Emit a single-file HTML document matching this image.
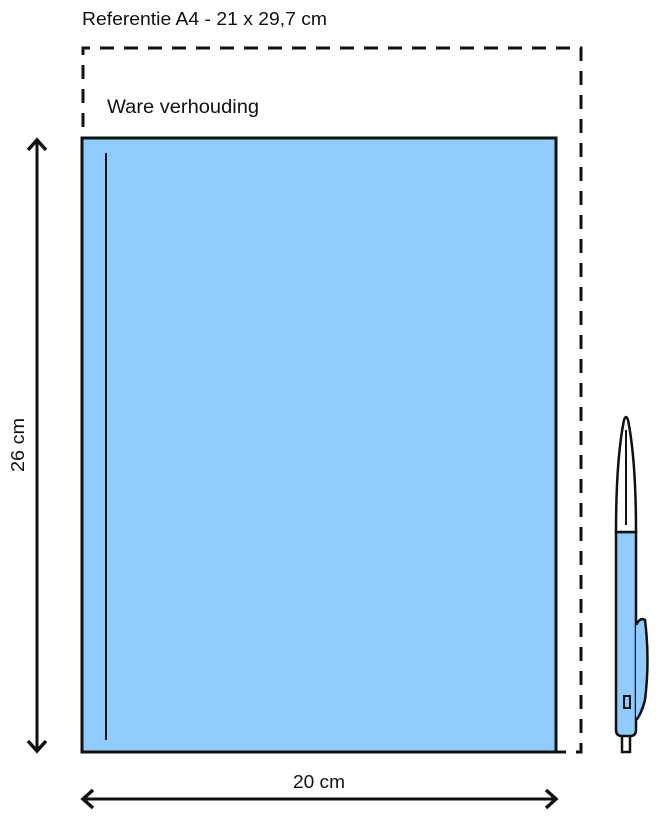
<!DOCTYPE html>
<html><head><meta charset="utf-8"><style>
html,body{margin:0;padding:0;background:#fff;}
svg{display:block;}
text{font-family:"Liberation Sans",sans-serif;fill:#111;}
</style></head><body>
<svg width="672" height="816" viewBox="0 0 672 816" xmlns="http://www.w3.org/2000/svg">
<text x="82" y="25" font-size="18.5" textLength="245" lengthAdjust="spacingAndGlyphs">Referentie A4 - 21 x 29,7 cm</text>
<text x="107" y="113" font-size="19" textLength="152" lengthAdjust="spacingAndGlyphs">Ware verhouding</text>
<path d="M83 127 V48 H581 V752 H556" fill="none" stroke="#111" stroke-width="3" stroke-dasharray="14,10"/>
<rect x="82" y="138" width="474" height="614" fill="#91cbfd" stroke="#111" stroke-width="3"/>
<line x1="106" y1="153" x2="106" y2="740" stroke="#111" stroke-width="2"/>
<line x1="37" y1="140" x2="37" y2="751" stroke="#111" stroke-width="3"/>
<path d="M28 150 L37 140 L46 150 M28 741 L37 751 L46 741" fill="none" stroke="#111" stroke-width="3.5"/>
<text transform="translate(24,445) rotate(-90)" font-size="18" text-anchor="middle" textLength="54" lengthAdjust="spacingAndGlyphs">26 cm</text>
<line x1="83" y1="799" x2="556" y2="799" stroke="#111" stroke-width="3"/>
<path d="M93 790 L83 799 L93 808 M546 790 L556 799 L546 808" fill="none" stroke="#111" stroke-width="3.5"/>
<text x="319" y="788" font-size="18" text-anchor="middle" textLength="52" lengthAdjust="spacingAndGlyphs">20 cm</text>
<path d="M622 735 V752 H630 V735" fill="#fff" stroke="#111" stroke-width="2.5"/>
<path d="M616 532 V730 Q616 736 622 736 H630 Q636 736 636 730 V532 Z" fill="#91cbfd" stroke="#111" stroke-width="2.5"/>
<path d="M616 532 Q616 460 624 420 Q626 414 628 420 Q636 460 636 532 Z" fill="#fff" stroke="#111" stroke-width="2.5"/>
<line x1="626" y1="430" x2="626" y2="525" stroke="#111" stroke-width="2"/>
<path d="M636 625 Q640 617 645 620 Q650 660 645 700 Q641 715 636 720" fill="#91cbfd" stroke="#111" stroke-width="2.5"/>
<rect x="624" y="696" width="6" height="12" fill="none" stroke="#111" stroke-width="2"/>
</svg>
</body></html>
